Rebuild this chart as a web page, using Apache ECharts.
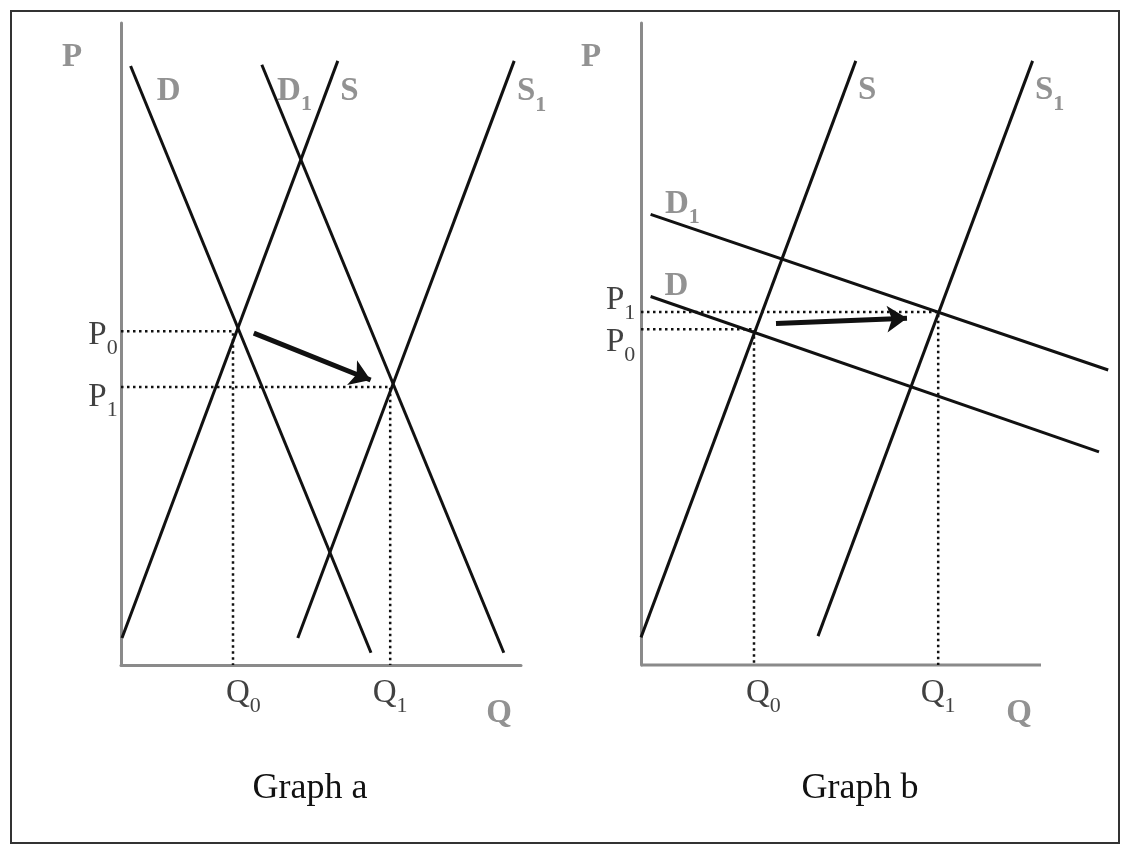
<!DOCTYPE html>
<html>
<head>
<meta charset="utf-8">
<title>Graph a / Graph b</title>
<script src="https://cdn.jsdelivr.net/npm/echarts@6/dist/echarts.min.js"></script>
<style>
  html, body { margin: 0; padding: 0; background: #fff; }
  #main { width: 1125px; height: 846px; }
</style>
</head>
<body>
<div id="main"></div>
<script>
// Graph a: demand and supply both shift (D -> D1, S -> S1)
const demandA = [[2.4, 93.3], [62.5, 1.9]]
const supplyA = [[0.25, 4.2], [54.2, 94.1]]
const demand1A = [[35.2, 93.5], [95.7, 1.9]]
const supply1A = [[44.2, 4.2], [98.3, 94.1]]
const priceA = [52.0, 43.3]   // P0, P1
const quantA = [28.0, 67.3]   // Q0, Q1
const arrowA = [[33.2, 51.7], [62.4, 44.4]]

// Graph b: flat demand, supply shifts out
const supplyB = [[0, 4.3], [53.7, 94.1]]
const supply1B = [[44.25, 4.5], [97.9, 94.1]]
const demand1B = [[2.4, 70.2], [116.8, 45.95]]
const demandB = [[2.4, 57.4], [114.5, 33.2]]
const priceB = [52.3, 55.0]   // P0, P1
const quantB = [28.25, 74.3]  // Q0, Q1
const arrowB = [[33.75, 53.2], [66.5, 54.0]]

const qRange = [0, 100]       // visible length of the Q axis
const titles = ['Graph a', 'Graph b']

const FONT = 'Liberation Serif'
const GRAY = '#777777'
const INK = '#111111'
const AXIS = '#8a8a8a'

// {b|D} plain bold grey, {bm|D}{bs|1} with subscript; r* = plain black
function tag(main, sub, bold) {
  const k = bold ? 'b' : 'r'
  if (sub === undefined) return '{' + k + '|' + main + '}'
  return '{' + k + 'm|' + main + '}{' + k + 's|' + sub + '}'
}

// main and subscript tokens get the same total height (40) so the
// subscript can be pushed down with top padding
function txt(size, bold, color, pad) {
  const s = { fontFamily: FONT, fontSize: size, color: color, textBorderWidth: 0 }
  if (bold) s.fontWeight = 'bold'
  s.lineHeight = size === 33 ? 32 : 22
  if (pad) s.padding = pad
  return s
}
const rich = {
  b: txt(33, true, GRAY),
  bm: txt(33, true, GRAY, [0, 0, 8, 0]),
  bs: txt(22, true, GRAY, [18, 0, 0, 0]),
  r: txt(33, false, INK),
  rm: txt(33, false, INK, [0, 0, 8, 0]),
  rs: txt(22, false, INK, [18, 0, 0, 0])
}

function curve(data, i, color, width) {
  return {
    type: 'line', data: data, xAxisIndex: i, yAxisIndex: i,
    showSymbol: false, clip: false, silent: true,
    lineStyle: { color: color || INK, width: width || 3 }
  }
}

function dotted(p, q, i) {
  return {
    type: 'line', data: [[0, p], [q, p], [q, 0]], xAxisIndex: i, yAxisIndex: i,
    showSymbol: false, clip: false, silent: true,
    lineStyle: { color: INK, width: 2.5, type: [2.5, 3.5] }
  }
}

function arrow(coords, i) {
  return {
    type: 'lines', coordinateSystem: 'cartesian2d', xAxisIndex: i, yAxisIndex: i,
    data: [{ coords: coords }], silent: true,
    symbol: ['none', 'arrow'], symbolSize: [1, 20],
    lineStyle: { color: INK, width: 5, opacity: 1 }
  }
}

function labels(items, i) {
  return {
    type: 'scatter', xAxisIndex: i, yAxisIndex: i, clip: false, silent: true,
    symbolSize: 1, itemStyle: { color: 'transparent' },
    label: { show: true, position: 'inside', rich: rich, textBorderWidth: 0 },
    data: items.map(it => ({ value: it[0], label: { formatter: it[1], offset: it[2] } }))
  }
}

const labelsA = [
  [[0, 100], tag('P', undefined, true), [-49, 34]],
  [[100, 0], tag('Q', undefined, true), [-22, 48]],
  [demandA[0], tag('D', undefined, true), [38, 25]],
  [demand1A[0], tag('D', '1', true), [32.7, 31]],
  [supplyA[1], tag('S', undefined, true), [11.7, 30.3]],
  [supply1A[1], tag('S', '1', true), [17.4, 35]],
  [[0, priceA[0]], tag('P', '0'), [-18, 8]],
  [[0, priceA[1]], tag('P', '1'), [-18, 14.5]],
  [[quantA[0], 0], tag('Q', '0'), [10.4, 32]],
  [[quantA[1], 0], tag('Q', '1'), [0, 32]]
]

const labelsB = [
  [[0, 100], tag('P', undefined, true), [-50, 34]],
  [[qRange[1], 0], tag('Q', undefined, true), [-22, 48]],
  [demand1B[0], tag('D', '1', true), [31.7, -6]],
  [demandB[0], tag('D', undefined, true), [25.8, -10]],
  [supplyB[1], tag('S', undefined, true), [11.3, 29.3]],
  [supply1B[1], tag('S', '1', true), [17, 34]],
  [[0, priceB[1]], tag('P', '1'), [-20.4, -7.5]],
  [[0, priceB[0]], tag('P', '0'), [-20.4, 17]],
  [[quantB[0], 0], tag('Q', '0'), [9.4, 32]],
  [[quantB[1], 0], tag('Q', '1'), [0, 32]]
]

function axis(gridIndex, max, showLine) {
  return {
    type: 'value', gridIndex: gridIndex, min: 0, max: max,
    axisLine: { show: showLine, lineStyle: { color: AXIS, width: 3 } },
    axisTick: { show: false }, axisLabel: { show: false }, splitLine: { show: false }
  }
}

const chart = echarts.init(document.getElementById('main'))
chart.setOption({
  backgroundColor: '#ffffff',
  animation: false,
  grid: [
    { left: 121, top: 23, width: 400, height: 642 },
    // graph b: demand curves run past the end of the Q axis, so the grid is wider
    { left: 641, top: 23, width: 480, height: 642 }
  ],
  xAxis: [axis(0, 100, true), axis(1, 120, false)],
  yAxis: [axis(0, 100, true), axis(1, 100, true)],
  graphic: [
    { type: 'rect', shape: { x: 11, y: 11, width: 1108, height: 832 },
      style: { fill: 'none', stroke: '#333', lineWidth: 2 }, silent: true },
    { type: 'text', x: 310, y: 789,
      style: { text: titles[0], font: '36px "Liberation Serif"', fill: INK, align: 'center', verticalAlign: 'middle' } },
    { type: 'text', x: 860, y: 789,
      style: { text: titles[1], font: '36px "Liberation Serif"', fill: INK, align: 'center', verticalAlign: 'middle' } }
  ],
  series: [
    dotted(priceA[0], quantA[0], 0),
    dotted(priceA[1], quantA[1], 0),
    curve(demandA, 0),
    curve(supplyA, 0),
    curve(demand1A, 0),
    curve(supply1A, 0),
    arrow(arrowA, 0),
    labels(labelsA, 0),

    curve([[qRange[0], 0], [qRange[1], 0]], 1, AXIS, 3),
    dotted(priceB[0], quantB[0], 1),
    dotted(priceB[1], quantB[1], 1),
    curve(supplyB, 1),
    curve(supply1B, 1),
    curve(demand1B, 1),
    curve(demandB, 1),
    arrow(arrowB, 1),
    labels(labelsB, 1)
  ]
})
</script>
</body>
</html>
